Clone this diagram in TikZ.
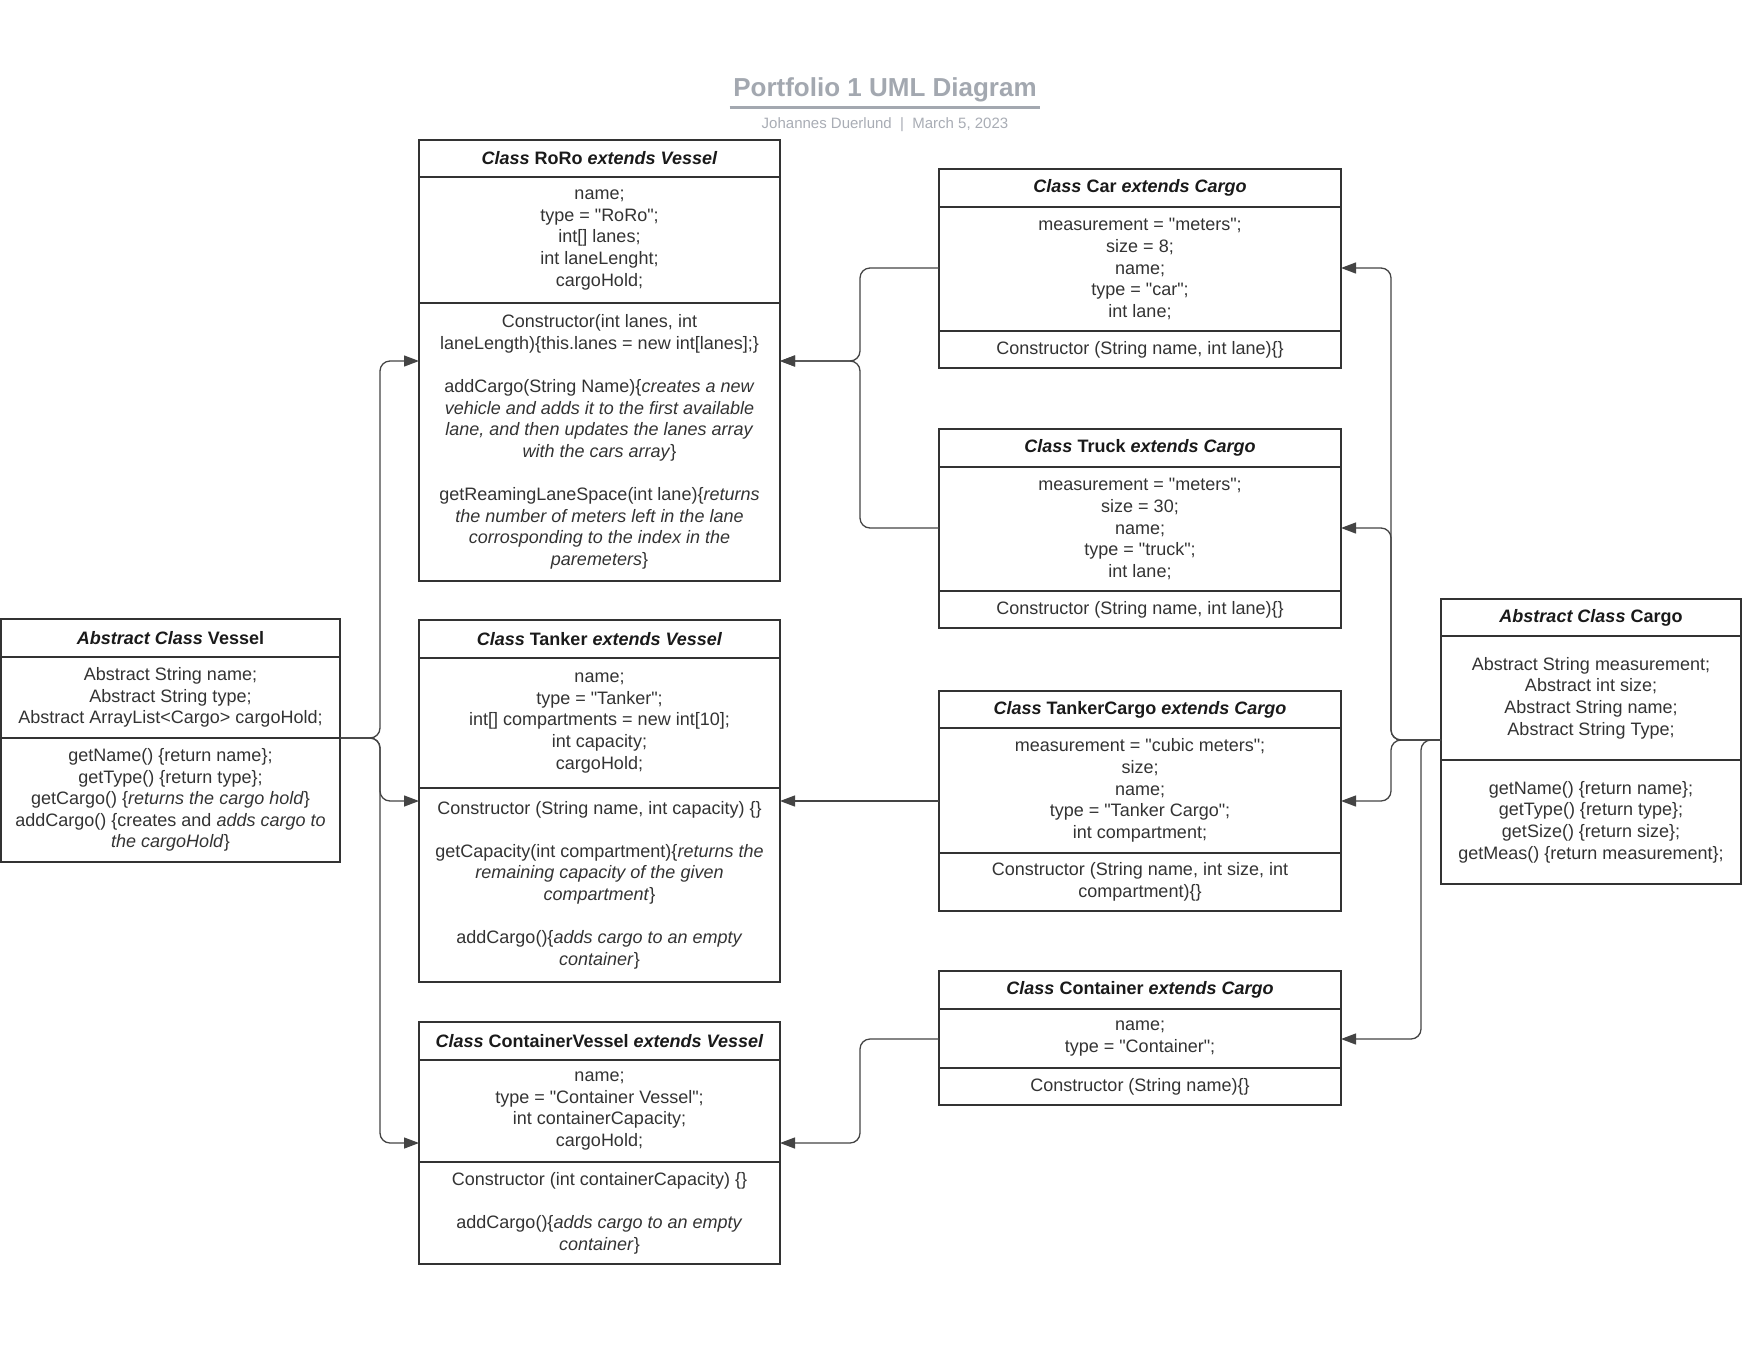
\documentclass[tikz,border=0pt]{standalone}
\usepackage{fontspec}
\setmainfont{Liberation Sans}[Ligatures=TeXOff]
\usetikzlibrary{arrows.meta}
\definecolor{boxc}{HTML}{333333}
\definecolor{txtc}{HTML}{333333}
\definecolor{hdrc}{HTML}{1A1A1A}
\definecolor{connc}{HTML}{444444}
\definecolor{titlec}{HTML}{A3A8B0}
\definecolor{subc}{HTML}{A9ADB5}
\newcommand\bodyfont{\fontsize{18}{21.6}\selectfont}
\newcommand\gap{\\[21.6pt]}
\begin{document}
\begin{tikzpicture}[x=1pt,y=-1pt,
  part/.style={draw=boxc, line width=2pt, inner sep=0pt, outer sep=0pt, anchor=north west,
    align=center, text=txtc, font=\bodyfont},
  hdr/.style={part, text=hdrc, font=\bodyfont\bfseries},
  conn/.style={draw=connc, line width=1.3pt, rounded corners=10pt,
    -{Triangle[length=15pt,width=11pt]}},
  titletext/.style={text=titlec, font=\fontsize{26}{30}\selectfont\bfseries, inner sep=3.5pt, anchor=base},
  subtext/.style={text=subc, font=\fontsize{15}{18}\selectfont, anchor=base}]
\useasboundingbox (0,0) rectangle (1760,1360);
\fill[white] (0,0) rectangle (1760,1360);

% title
\node[titletext] (title) at (885,96) {Portfolio 1 UML Diagram};
\coordinate (uY) at (0,107);
\draw[titlec, line width=3pt] (title.west |- uY) -- (title.east |- uY);
\node[subtext] (sub) at (885,128) {Johannes Duerlund \ | \ March 5, 2023};

% ---------- Abstract Class Vessel
\node[hdr, minimum width=339pt, minimum height=38pt] (vesH) at (1,619) {\textit{Abstract Class} Vessel};
\node[part, minimum width=339pt, minimum height=81pt] (vesA) at (1,657)
  {Abstract String name;\\Abstract String type;\\Abstract ArrayList<Cargo> cargoHold;};
\node[part, minimum width=339pt, minimum height=124pt] (vesM) at (1,738)
  {getName() \{return name\};\\getType() \{return type\};\\getCargo() \{\textit{returns the cargo hold}\}\\
   addCargo() \{creates and \textit{adds cargo to}\\\textit{the cargoHold}\}};

% ---------- RoRo
\node[hdr, minimum width=361pt, minimum height=37pt] (roroH) at (419,140) {\textit{Class} RoRo \textit{extends Vessel}};
\node[part, minimum width=361pt, minimum height=126pt] (roroA) at (419,177)
  {name;\\type = "RoRo";\\int[] lanes;\\int laneLenght;\\cargoHold;};
\node[part, minimum width=361pt, minimum height=278pt] (roroM) at (419,303)
  {Constructor(int lanes, int\\laneLength)\{this.lanes = new int[lanes];\}\gap
   addCargo(String Name)\{\textit{creates a new}\\\textit{vehicle and adds it to the first available}\\
   \textit{lane, and then updates the lanes array}\\\textit{with the cars array}\}\gap
   getReamingLaneSpace(int lane)\{\textit{returns}\\\textit{the number of meters left in the lane}\\
   \textit{corrosponding to the index in the}\\\textit{paremeters}\}};

% ---------- Tanker
\node[hdr, minimum width=361pt, minimum height=38pt] (tankH) at (419,620) {\textit{Class} Tanker \textit{extends Vessel}};
\node[part, minimum width=361pt, minimum height=130pt] (tankA) at (419,658)
  {name;\\type = "Tanker";\\int[] compartments = new int[10];\\int capacity;\\cargoHold;};
\node[part, minimum width=361pt, minimum height=194pt] (tankM) at (419,788)
  {Constructor (String name, int capacity) \{\}\gap
   getCapacity(int compartment)\{\textit{returns the}\\\textit{remaining capacity of the given}\\\textit{compartment}\}\gap
   addCargo()\{\textit{adds cargo to an empty}\\\textit{container}\}};

% ---------- ContainerVessel
\node[hdr, minimum width=361pt, minimum height=38pt] (cvH) at (419,1022) {\textit{Class} ContainerVessel \textit{extends Vessel}};
\node[part, minimum width=361pt, minimum height=102pt] (cvA) at (419,1060)
  {name;\\type = "Container Vessel";\\int containerCapacity;\\cargoHold;};
\node[part, minimum width=361pt, minimum height=102pt] (cvM) at (419,1162)
  {Constructor (int containerCapacity) \{\}\gap
   addCargo()\{\textit{adds cargo to an empty}\\\textit{container}\}};

% ---------- Car
\node[hdr, minimum width=402pt, minimum height=38pt] (carH) at (939,169) {\textit{Class} Car \textit{extends Cargo}};
\node[part, minimum width=402pt, minimum height=124pt] (carA) at (939,207)
  {measurement = "meters";\\size = 8;\\name;\\type = "car";\\int lane;};
\node[part, minimum width=402pt, minimum height=37pt] (carM) at (939,331)
  {Constructor (String name, int lane)\{\}};

% ---------- Truck
\node[hdr, minimum width=402pt, minimum height=38pt] (truckH) at (939,429) {\textit{Class} Truck \textit{extends Cargo}};
\node[part, minimum width=402pt, minimum height=124pt] (truckA) at (939,467)
  {measurement = "meters";\\size = 30;\\name;\\type = "truck";\\int lane;};
\node[part, minimum width=402pt, minimum height=37pt] (truckM) at (939,591)
  {Constructor (String name, int lane)\{\}};

% ---------- TankerCargo
\node[hdr, minimum width=402pt, minimum height=37pt] (tcH) at (939,691) {\textit{Class} TankerCargo \textit{extends Cargo}};
\node[part, minimum width=402pt, minimum height=125pt] (tcA) at (939,728)
  {measurement = "cubic meters";\\size;\\name;\\type = "Tanker Cargo";\\int compartment;};
\node[part, minimum width=402pt, minimum height=58pt] (tcM) at (939,853)
  {Constructor (String name, int size, int\\compartment)\{\}};

% ---------- Container
\node[hdr, minimum width=402pt, minimum height=38pt] (contH) at (939,971) {\textit{Class} Container \textit{extends Cargo}};
\node[part, minimum width=402pt, minimum height=59pt] (contA) at (939,1009)
  {name;\\type = "Container";};
\node[part, minimum width=402pt, minimum height=37pt] (contM) at (939,1068)
  {Constructor (String name)\{\}};

% ---------- Abstract Class Cargo
\node[hdr, minimum width=300pt, minimum height=37pt] (cargoH) at (1441,599) {\textit{Abstract Class} Cargo};
\node[part, minimum width=300pt, minimum height=124pt] (cargoA) at (1441,636)
  {Abstract String measurement;\\Abstract int size;\\Abstract String name;\\Abstract String Type;};
\node[part, minimum width=300pt, minimum height=124pt] (cargoM) at (1441,760)
  {getName() \{return name\};\\getType() \{return type\};\\getSize() \{return size\};\\getMeas() \{return measurement\};};

% ---------- connector levels and trunks
\coordinate (tL) at (380,0);
\coordinate (tM) at (860,0);
\coordinate (tR) at (1391,0);
\coordinate (tR2) at (1421,0);
\coordinate (yRoRo) at (0,361);
\coordinate (yTank) at (0,801);
\coordinate (yCV) at (0,1143);
\coordinate (yCar) at (0,268);
\coordinate (yTruck) at (0,528);
\coordinate (yCont) at (0,1039);
\coordinate (yCargo) at (0,740);

% Vessel -> subclasses
\draw[conn] (vesM.north east) -| (tL |- yRoRo) -- (roroM.west |- yRoRo);
\draw[conn] (vesM.north east) -| (tL |- yTank) -- (tankM.west |- yTank);
\draw[conn] (vesM.north east) -| (tL |- yCV) -- (cvA.west |- yCV);

% cargo classes -> vessels
\draw[conn] (carA.west |- yCar) -| (tM |- yRoRo) -- (roroM.east |- yRoRo);
\draw[conn] (truckA.west |- yTruck) -| (tM |- yRoRo) -- (roroM.east |- yRoRo);
\draw[conn] (tcA.west |- yTank) -- (tankM.east |- yTank);
\draw[conn] (contA.west |- yCont) -| (tM |- yCV) -- (cvA.east |- yCV);

% Cargo -> subclasses
\draw[conn] (cargoA.west |- yCargo) -| (tR |- yCar) -- (carA.east |- yCar);
\draw[conn] (cargoA.west |- yCargo) -| (tR |- yTruck) -- (truckA.east |- yTruck);
\draw[conn] (cargoA.west |- yCargo) -| (tR |- yTank) -- (tcA.east |- yTank);
\draw[conn] (cargoA.west |- yCargo) -| (tR2 |- yCont) -- (contA.east |- yCont);
\end{tikzpicture}
\end{document}
